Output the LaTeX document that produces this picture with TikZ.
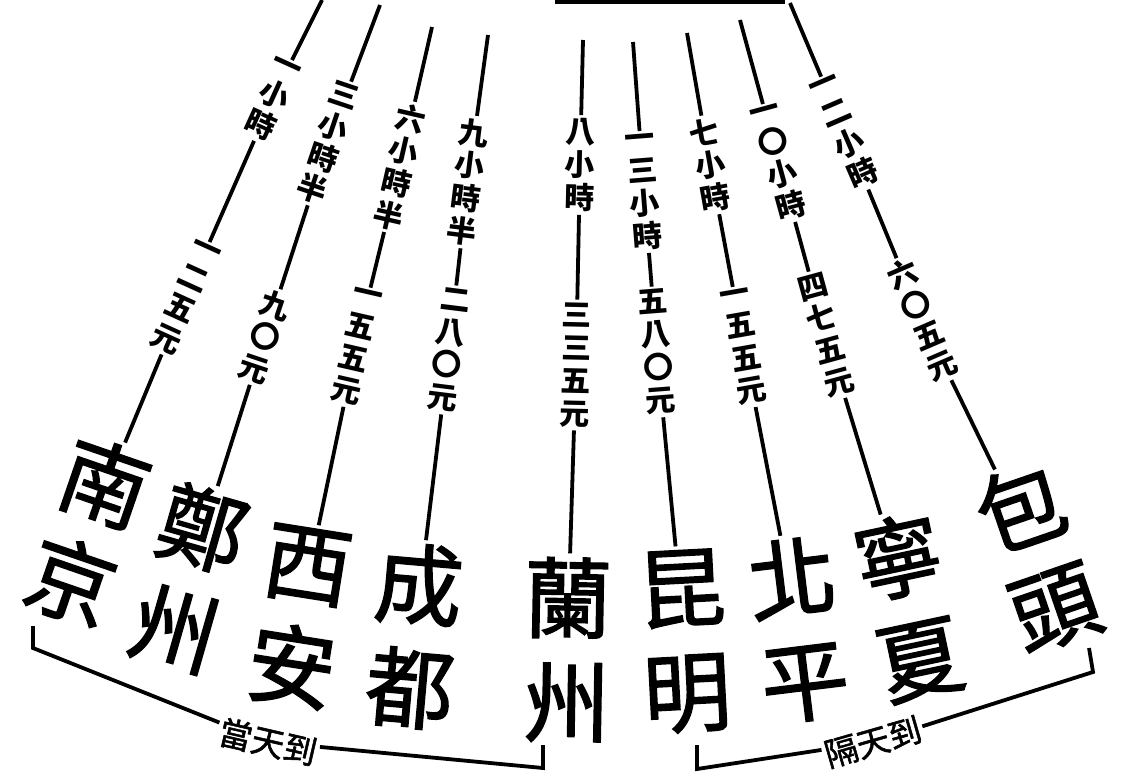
\documentclass[tikz,border=0pt]{standalone}
\usepackage{fontspec}
\newfontfamily\cjk{Noto Sans CJK TC}
\newfontfamily\cjkc[FakeBold=1.6]{Noto Sans CJK TC}
\usetikzlibrary{calc}
\tikzset{
  lbl/.style={font=\cjk\bfseries\fontsize{30}{33}\selectfont, align=center, inner sep=3pt},
  city/.style={font=\cjkc\fontsize{88}{104}\selectfont, align=center, inner sep=4pt},
  brlbl/.style={font=\cjkc\fontsize{33}{33}\selectfont, inner sep=2pt},
  spoke/.style={line width=3.8pt},
  brk/.style={line width=3.8pt},
}
\begin{document}
\begin{tikzpicture}[x=1pt,y=-1pt]
\useasboundingbox (0,0) rectangle (1131,782);
% hub edge
\coordinate (hubL) at (555,1);
\coordinate (hubR) at (785,1);
\draw[line width=5pt] (hubL) -- (hubR);

% spoke 1
\coordinate (t1) at (322,0); \coordinate (b1) at (128,430);
\node[lbl,rotate=-24.4] (a1) at (272,100) {一\\小\\時};
\node[lbl,rotate=-24.4] (p1) at (185,298) {一\\二\\五\\元};
\node[city,rotate=-19] (c1) at ($(b1)!-112pt!(t1)+(6,0)$) {南\\京};
\draw[spoke] (t1) -- (a1) -- (p1) -- (c1);
% spoke 2
\coordinate (t2) at (380,5); \coordinate (b2) at (224,472);
\node[lbl,rotate=-18.6] (a2) at (328,143) {三\\小\\時\\半};
\node[lbl,rotate=-18.6] (p2) at (265,337) {九\\〇\\元};
\node[city,rotate=-16] (c2) at ($(b2)!-112pt!(t2)$) {鄭\\州};
\draw[spoke] (t2) -- (a2) -- (p2) -- (c2);
% spoke 3
\coordinate (t3) at (432,27); \coordinate (b3) at (324,508);
\node[lbl,rotate=-12.9] (a3) at (400,167) {六\\小\\時\\半};
\node[lbl,rotate=-12.9] (p3) at (356,347) {一\\五\\五\\元};
\node[city,rotate=-9] (c3) at ($(b3)!-112pt!(t3)$) {西\\安};
\draw[spoke] (t3) -- (a3) -- (p3) -- (c3);
% spoke 4
\coordinate (t4) at (488,35); \coordinate (b4) at (428,525);
\node[lbl,rotate=-7.1] (a4) at (468,182) {九\\小\\時\\半};
\node[lbl,rotate=-7.1] (p4) at (449,350) {二\\八\\〇\\元};
\node[city,rotate=-5] (c4) at ($(b4)!-112pt!(t4)$) {成\\都};
\draw[spoke] (t4) -- (a4) -- (p4) -- (c4);
% spoke 5
\coordinate (t5) at (583,40); \coordinate (b5) at (570,538);
\node[lbl,rotate=-1.3] (a5) at (580,165) {八\\小\\時};
\node[lbl,rotate=-1.3] (p5) at (576,365) {三\\三\\五\\元};
\node[city,rotate=-1] (c5) at ($(b5)!-112pt!(t5)$) {蘭\\州};
\draw[spoke] (t5) -- (a5) -- (p5) -- (c5);
% spoke 6
\coordinate (t6) at (633,42); \coordinate (b6) at (675,530);
\node[lbl,rotate=4.5] (a6) at (644,192) {一\\三\\小\\時};
\node[lbl,rotate=4.5] (p6) at (657,352) {五\\八\\〇\\元};
\node[city,rotate=3] (c6) at ($(b6)!-112pt!(t6)$) {昆\\明};
\draw[spoke] (t6) -- (a6) -- (p6) -- (c6);
% spoke 7
\coordinate (t7) at (687,33); \coordinate (b7) at (778,520);
\node[lbl,rotate=10] (a7) at (710,165) {七\\小\\時};
\node[lbl,rotate=10] (p7) at (744,347) {一\\五\\五\\元};
\node[city,rotate=7] (c7) at ($(b7)!-112pt!(t7)$) {北\\平};
\draw[spoke] (t7) -- (a7) -- (p7) -- (c7);
% spoke 8
\coordinate (t8) at (740,20); \coordinate (b8) at (878,500);
\node[lbl,rotate=15.3] (a8) at (779,163) {一\\〇\\小\\時};
\node[lbl,rotate=15.3] (p8) at (826,335) {四\\七\\五\\元};
\node[city,rotate=12] (c8) at ($(b8)!-112pt!(t8)$) {寧\\夏};
\draw[spoke] (t8) -- (a8) -- (p8) -- (c8);
% spoke 9
\coordinate (t9) at (790,3); \coordinate (b9) at (992,455);
\node[lbl,rotate=23.3] (a9) at (845,133) {一\\二\\小\\時};
\node[lbl,rotate=23.3] (p9) at (922,320) {六\\〇\\五\\元};
\node[city,rotate=19] (c9) at ($(b9)!-112pt!(t9)$) {包\\頭};
\draw[spoke] (t9) -- (a9) -- (p9) -- (c9);

% same-day bracket
\coordinate (lb0) at (33,626); \coordinate (lb1) at (33,648);
\node[brlbl,rotate=-13] (today) at (268,742) {當天到};
\coordinate (lb2) at (543,768); \coordinate (lb3) at (543,745);
\draw[brk] (lb0) -- (lb1) -- (today);
\draw[brk] (today) -- (lb2) -- (lb3);
% next-day bracket
\coordinate (rb0) at (697,745); \coordinate (rb1) at (697,769);
\node[brlbl,rotate=16] (nextday) at (873,742) {隔天到};
\coordinate (rb2) at (1093,672); \coordinate (rb3) at (1089,648);
\draw[brk] (rb0) -- (rb1) -- (nextday);
\draw[brk] (nextday) -- (rb2) -- (rb3);
\end{tikzpicture}
\end{document}
